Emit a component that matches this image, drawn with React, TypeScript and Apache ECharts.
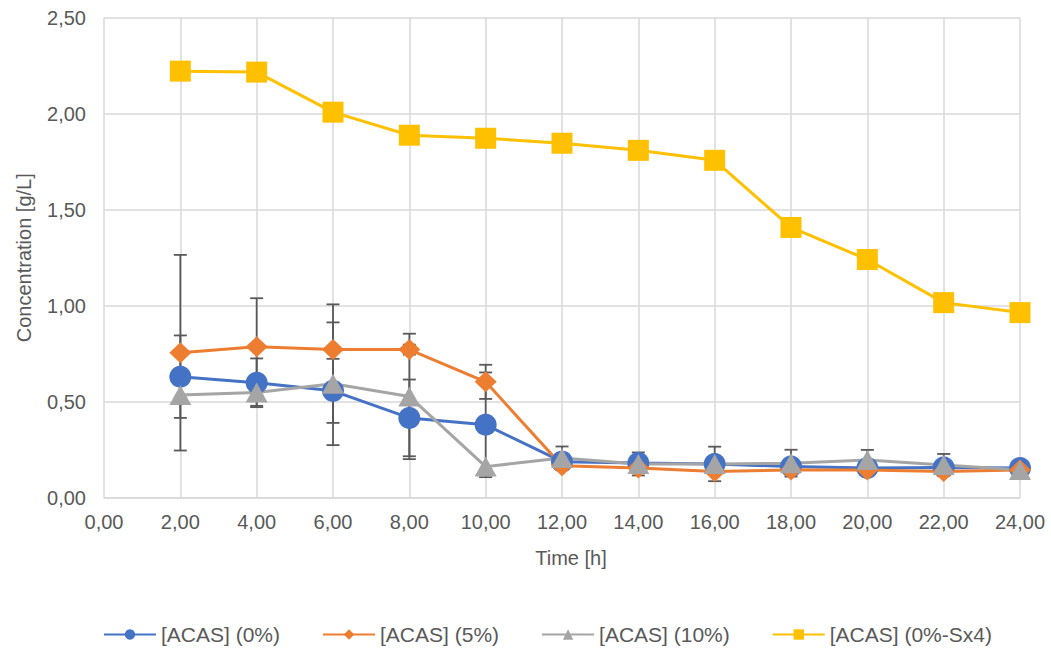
import React, { useEffect, useRef } from "react";
import * as echarts from "echarts";

// Sampling times [h]
const hours = [2, 4, 6, 8, 10, 12, 14, 16, 18, 20, 22, 24];

// Mean concentrations [g/L]
const acas0 = [0.63, 0.598, 0.556, 0.415, 0.379, 0.187, 0.18, 0.175, 0.161, 0.154, 0.156, 0.154];
const acas5 = [0.755, 0.786, 0.771, 0.771, 0.603, 0.165, 0.154, 0.135, 0.144, 0.144, 0.135, 0.144];
const acas10 = [0.535, 0.548, 0.593, 0.527, 0.161, 0.206, 0.175, 0.175, 0.179, 0.196, 0.17, 0.144];
const acas0Sx4 = [2.223, 2.218, 2.009, 1.889, 1.873, 1.847, 1.81, 1.758, 1.408, 1.241, 1.016, 0.964];

// Standard deviations (± half-widths of error bars)
const err0 = [0.215, 0.127, 0.167, 0.2, 0.273, 0, 0, 0, 0, 0, 0, 0];
const err5 = [0.51, 0.253, 0.236, 0.026, 0.089, 0, 0, 0, 0, 0, 0, 0];
const err10 = [0, 0.07, 0.32, 0.327, 0, 0.06, 0.06, 0.09, 0.07, 0.052, 0.057, 0];

const seriesNames = ["[ACAS] (0%)", "[ACAS] (5%)", "[ACAS] (10%)", "[ACAS] (0%-Sx4)"];
const colors = ["#4472C4", "#ED7D31", "#A5A5A5", "#FFC000"];

const FONT = "'Liberation Sans', Arial, sans-serif";
const TEXT = "#595959";
const GRID = "#D9D9D9";
const FS = 20;

const fmt = (v: number) => v.toFixed(2).replace(".", ",");

function errorSeries(means: number[], errs: number[]) {
  const data = hours
    .map((h, i) => [h, means[i] - errs[i], means[i] + errs[i], errs[i]])
    .filter((d) => d[3] > 0);
  return {
    type: "custom",
    silent: true,
    z: 1,
    data,
    encode: { x: 0, y: [1, 2] },
    renderItem: (params: any, api: any) => {
      const x = api.value(0);
      const lo = api.coord([x, api.value(1)]);
      const hi = api.coord([x, api.value(2)]);
      const half = 6.5;
      const style = { stroke: "#595959", lineWidth: 1.8, fill: "none" };
      return {
        type: "group",
        children: [
          { type: "line", shape: { x1: lo[0], y1: lo[1], x2: hi[0], y2: hi[1] }, style },
          { type: "line", shape: { x1: hi[0] - half, y1: hi[1], x2: hi[0] + half, y2: hi[1] }, style },
          { type: "line", shape: { x1: lo[0] - half, y1: lo[1], x2: lo[0] + half, y2: lo[1] }, style },
        ],
      };
    },
  };
}

function lineSeries(name: string, values: number[], color: string, symbol: string, size: any) {
  return {
    name,
    type: "line",
    z: 3,
    data: hours.map((h, i) => [h, values[i]]),
    symbol,
    symbolSize: size,
    showAllSymbol: true,
    lineStyle: { color, width: 3 },
    itemStyle: { color },
  };
}

export default function App() {
  const ref = useRef<HTMLDivElement>(null);

  useEffect(() => {
    if (!ref.current) return;
    const chart = echarts.init(ref.current, undefined, { renderer: "svg" });
    chart.setOption({
      animation: false,
      textStyle: { fontFamily: FONT },
      grid: { left: 104, right: 31, top: 18, bottom: 150.5, containLabel: false },
      legend: {
        data: seriesNames,
        top: 619,
        left: 98,
        itemWidth: 52,
        itemHeight: 13,
        itemGap: 42,
        textStyle: { color: TEXT, fontSize: 21, fontFamily: FONT },
      },
      xAxis: {
        type: "value",
        min: 0,
        max: 24,
        interval: 2,
        name: "Time [h]",
        nameLocation: "middle",
        nameGap: 50,
        nameTextStyle: { color: TEXT, fontSize: FS, fontFamily: FONT, padding: [0, 0, 0, 18] },
        axisLine: { show: true, lineStyle: { color: GRID, width: 1.5 } },
        axisTick: { show: false },
        axisLabel: { color: TEXT, fontSize: FS, margin: 14, formatter: fmt },
        splitLine: { show: true, lineStyle: { color: GRID, width: 1.5 } },
      },
      yAxis: {
        type: "value",
        min: 0,
        max: 2.5,
        interval: 0.5,
        name: "Concentration [g/L]",
        nameLocation: "middle",
        nameGap: 70,
        nameTextStyle: { color: TEXT, fontSize: FS, fontFamily: FONT },
        axisLine: { show: false },
        axisTick: { show: false },
        axisLabel: { color: TEXT, fontSize: FS, margin: 18, formatter: fmt },
        splitLine: { show: true, lineStyle: { color: GRID, width: 1.5 } },
      },
      series: [
        errorSeries(acas0, err0),
        errorSeries(acas5, err5),
        errorSeries(acas10, err10),
        lineSeries(seriesNames[0], acas0, colors[0], "circle", 22),
        lineSeries(seriesNames[1], acas5, colors[1], "diamond", [22, 21]),
        lineSeries(seriesNames[2], acas10, colors[2], "triangle", [22, 20]),
        lineSeries(seriesNames[3], acas0Sx4, colors[3], "rect", 21),
      ],
    });
    return () => chart.dispose();
  }, []);

  return (
    <div
      ref={ref}
      style={{ position: "absolute", left: 0, top: 0, width: 1051, height: 648 }}
    />
  );
}
